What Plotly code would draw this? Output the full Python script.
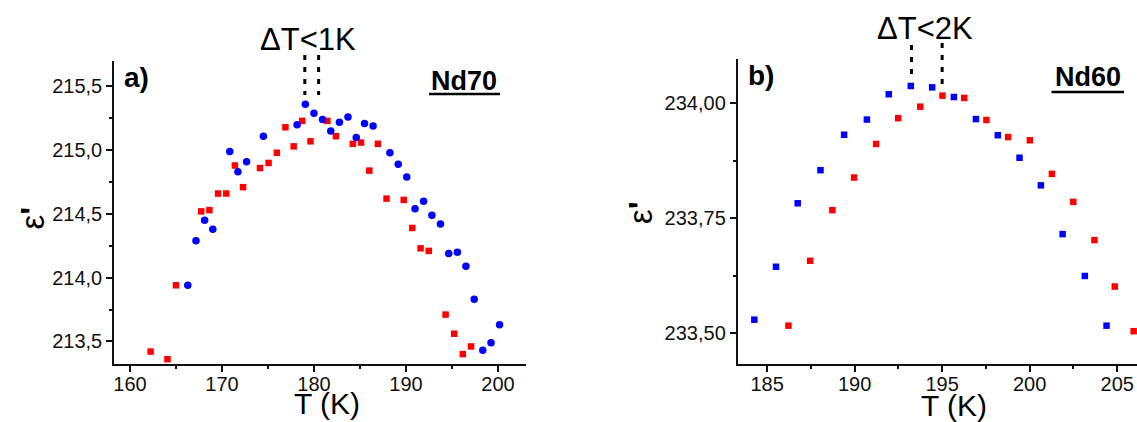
import plotly.graph_objects as go

# ---------------- data ----------------
# Panel a) Nd70
a_blue_T = [166.28, 167.17, 168.11, 169.00, 170.84, 171.73, 172.67, 174.50, 178.16, 179.06,
            179.99, 180.93, 181.82, 182.76, 183.69, 184.59, 185.49, 186.42, 188.25, 189.15,
            190.08, 190.98, 191.91, 192.81, 193.74, 194.64, 195.58, 196.51, 197.41, 198.34,
            199.24, 200.17]
a_blue_eps = [213.94, 214.29, 214.45, 214.38, 214.99, 214.83, 214.91, 215.11, 215.20, 215.36,
              215.29, 215.24, 215.15, 215.22, 215.26, 215.10, 215.21, 215.19, 214.98, 214.89,
              214.79, 214.54, 214.60, 214.49, 214.42, 214.19, 214.20, 214.09, 213.83, 213.43,
              213.49, 213.63]
a_red_T = [162.24, 164.07, 165.00, 167.74, 168.63, 169.57, 170.46, 171.40, 172.29, 174.13,
           175.06, 175.96, 176.89, 177.79, 178.72, 179.62, 181.45, 182.38, 184.22, 185.11,
           186.01, 186.94, 187.88, 189.75, 190.68, 191.58, 192.47, 194.30, 195.24, 196.17,
           197.07]
a_red_eps = [213.42, 213.36, 213.94, 214.52, 214.53, 214.66, 214.66, 214.88, 214.71, 214.86,
             214.90, 214.98, 215.18, 215.03, 215.23, 215.07, 215.23, 215.11, 215.05, 215.06,
             214.84, 215.05, 214.62, 214.61, 214.39, 214.23, 214.21, 213.71, 213.56, 213.40,
             213.46]

# Panel b) Nd60
b_blue_T = [184.27, 185.51, 186.75, 188.05, 189.40, 190.70, 191.95, 193.21, 194.43, 195.67,
            196.93, 198.18, 199.42, 200.64, 201.88, 203.15, 204.39]
b_blue_eps = [233.530, 233.645, 233.783, 233.855, 233.932, 233.965, 234.020, 234.038, 234.035,
              234.014, 233.966, 233.931, 233.882, 233.822, 233.716, 233.625, 233.517]
b_red_T = [186.22, 187.46, 188.73, 189.97, 191.23, 192.49, 193.75, 195.02, 196.26, 197.53,
           198.77, 200.01, 201.27, 202.49, 203.70, 204.86, 205.94]
b_red_eps = [233.517, 233.658, 233.768, 233.839, 233.912, 233.968, 233.993, 234.017, 234.012,
             233.964, 233.927, 233.920, 233.847, 233.786, 233.703, 233.602, 233.505]

# peak positions marked by the dotted lines
a_peaks_T = [179.0, 180.5]
b_peaks_T = [193.25, 195.0]

# ticks
a_xticks = [160, 170, 180, 190, 200]
a_xticktext = ["160", "170", "180", "190", "200"]
a_yticks = [213.5, 214.0, 214.5, 215.0, 215.5]
a_yticktext = ["213,5", "214,0", "214,5", "215,0", "215,5"]
b_xticks = [185, 190, 195, 200, 205]
b_xticktext = ["185", "190", "195", "200", "205"]
b_yticks = [233.50, 233.75, 234.00]
b_yticktext = ["233,50", "233,75", "234,00"]

# ---------------- layout geometry ----------------
W, H = 1137, 422
FONT = "Liberation Sans, Arial, sans-serif"


def pxx(p):
    return p / W


def pxy(p):
    return 1 - p / H


a_xdom = [pxx(114), pxx(526)]
a_ydom = [pxy(364.3), pxy(61)]
b_xdom = [pxx(737.5), 1.0]
b_ydom = [pxy(364.3), pxy(59.3)]
a_xr = [158.26, 203.04]
a_yr = [213.32, 215.70]
b_xr = [183.31, 206.13]
b_yr = [233.433, 234.096]


def data_to_paper_x(v, rng, dom):
    return dom[0] + (v - rng[0]) / (rng[1] - rng[0]) * (dom[1] - dom[0])


BLUE = "#0000FF"
RED = "#FF0000"

fig = go.Figure()
fig.add_trace(go.Scatter(x=a_red_T, y=a_red_eps, mode="markers", xaxis="x", yaxis="y",
                         marker=dict(symbol="square", size=6.5, color=RED, line=dict(width=0)),
                         showlegend=False, cliponaxis=False))
fig.add_trace(go.Scatter(x=a_blue_T, y=a_blue_eps, mode="markers", xaxis="x", yaxis="y",
                         marker=dict(symbol="circle", size=7.5, color=BLUE, line=dict(width=0)),
                         showlegend=False, cliponaxis=False))
fig.add_trace(go.Scatter(x=b_blue_T, y=b_blue_eps, mode="markers", xaxis="x2", yaxis="y2",
                         marker=dict(symbol="square", size=6.5, color=BLUE, line=dict(width=0)),
                         showlegend=False, cliponaxis=False))
fig.add_trace(go.Scatter(x=b_red_T, y=b_red_eps, mode="markers", xaxis="x2", yaxis="y2",
                         marker=dict(symbol="square", size=6.5, color=RED, line=dict(width=0)),
                         showlegend=False, cliponaxis=False))

axis_common = dict(showline=True, linecolor="#111111", linewidth=1.5, mirror=False,
                   ticks="outside", ticklen=6, tickwidth=1.5, tickcolor="#111111",
                   showgrid=False, zeroline=False,
                   tickfont=dict(family=FONT, size=20, color="#111111"))

fig.update_layout(
    width=W, height=H,
    margin=dict(l=0, r=0, t=0, b=0),
    paper_bgcolor="white", plot_bgcolor="white",
    font=dict(family=FONT, color="#111111"),
    xaxis=dict(domain=a_xdom, range=a_xr, anchor="y", tickmode="array",
               tickvals=a_xticks, ticktext=a_xticktext, ticklabelstandoff=-5,
               minor=dict(tickmode="linear", tick0=160, dtick=5, ticks="outside",
                          ticklen=3, tickwidth=1.5, tickcolor="#111111", showgrid=False),
               **axis_common),
    yaxis=dict(domain=a_ydom, range=a_yr, anchor="x", tickmode="array",
               tickvals=a_yticks, ticktext=a_yticktext,
               minor=dict(tickmode="linear", tick0=213.5, dtick=0.25, ticks="outside",
                          ticklen=3, tickwidth=1.5, tickcolor="#111111", showgrid=False),
               **axis_common),
    xaxis2=dict(domain=b_xdom, range=b_xr, anchor="y2", tickmode="array",
                tickvals=b_xticks, ticktext=b_xticktext, ticklabelstandoff=-5,
                minor=dict(tickmode="linear", tick0=185, dtick=2.5, ticks="outside",
                           ticklen=3, tickwidth=1.5, tickcolor="#111111", showgrid=False),
                **axis_common),
    yaxis2=dict(domain=b_ydom, range=b_yr, anchor="x2", tickmode="array",
                tickvals=b_yticks, ticktext=b_yticktext,
                minor=dict(tickmode="linear", tick0=233.5, dtick=0.125, ticks="outside",
                           ticklen=3, tickwidth=1.5, tickcolor="#111111", showgrid=False),
                **axis_common),
)

shapes = []
# dotted peak markers
a_dot_extent = [(55, 95), (55, 95)]
b_dot_extent = [(45, 75), (43, 85)]
for T, (top, bot) in zip(a_peaks_T, a_dot_extent):
    xp = data_to_paper_x(T, a_xr, a_xdom)
    shapes.append(dict(type="line", xref="paper", yref="paper", x0=xp, x1=xp,
                       y0=pxy(top), y1=pxy(bot),
                       line=dict(color="black", width=3, dash="5px,7px")))
for T, (top, bot) in zip(b_peaks_T, b_dot_extent):
    xp = data_to_paper_x(T, b_xr, b_xdom)
    shapes.append(dict(type="line", xref="paper", yref="paper", x0=xp, x1=xp,
                       y0=pxy(top), y1=pxy(bot),
                       line=dict(color="black", width=3, dash="5px,7px")))
# underlines of the sample names
shapes.append(dict(type="line", xref="paper", yref="paper", x0=pxx(429), x1=pxx(500),
                   y0=pxy(94), y1=pxy(94), line=dict(color="black", width=2.5)))
shapes.append(dict(type="line", xref="paper", yref="paper", x0=pxx(1051.5), x1=pxx(1124),
                   y0=pxy(92), y1=pxy(92), line=dict(color="black", width=2.5)))
fig.update_layout(shapes=shapes)


def ann(text, x, y, size, bold=False, angle=0):
    t = f"<b>{text}</b>" if bold else text
    return dict(text=t, x=pxx(x), y=pxy(y), xref="paper", yref="paper",
                xanchor="center", yanchor="middle", showarrow=False, textangle=angle,
                font=dict(family=FONT, size=size, color="black"))


anns = [
    ann("ΔT&lt;1K", 308, 39, 31),
    ann("ΔT&lt;2K", 925, 29, 31),
    ann("a)", 136, 77.5, 28, bold=True),
    ann("b)", 761, 76, 28, bold=True),
    ann("Nd70", 464, 81, 27, bold=True),
    ann("Nd60", 1087.5, 77.5, 27, bold=True),
    ann("T (K)", 327, 403, 30),
    ann("T (K)", 953.5, 405, 30),
    ann("ε<b>'</b>", 32, 218.5, 33, angle=-90),
    ann("ε<b>'</b>", 640, 213, 33, angle=-90),
]
fig.update_layout(annotations=anns)

fig.write_html(
    "out.html",
    config={"displayModeBar": False},
    post_script="document.body.style.margin='0';document.body.style.overflow='hidden';",
)
